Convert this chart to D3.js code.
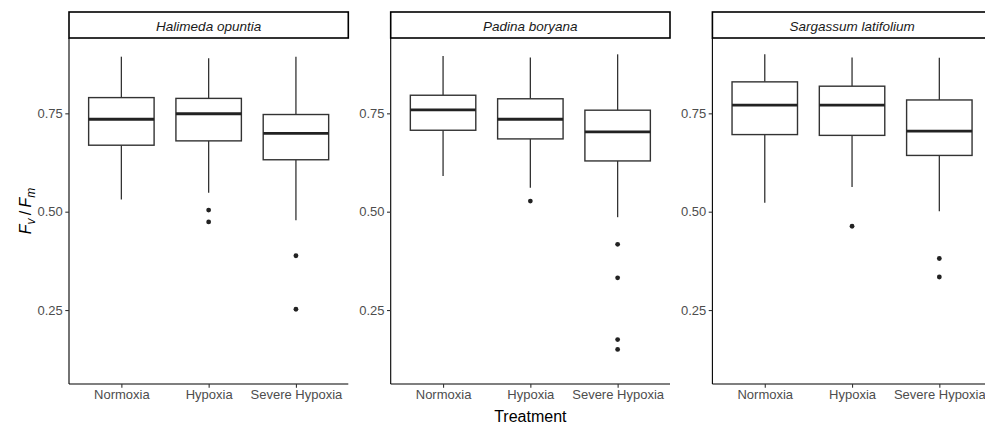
<!DOCTYPE html>
<html>
<head>
<meta charset="utf-8">
<script src="https://cdn.jsdelivr.net/npm/d3@7"></script>
<style>
  body { margin: 0; background: #fff; }
  svg { font-family: "Liberation Sans", Arial, sans-serif; }
</style>
</head>
<body>
<div id="chart"></div>
<script>
// data, one row per species, one value per treatment
const species = ["Halimeda opuntia", "Padina boryana", "Sargassum latifolium"];
const treatments = ["Normoxia", "Hypoxia", "Severe Hypoxia"];

const whiskerLow  = [[0.531, 0.548, 0.478], [0.591, 0.561, 0.486], [0.523, 0.563, 0.501]];
const q1          = [[0.669, 0.680, 0.632], [0.707, 0.685, 0.629], [0.696, 0.694, 0.643]];
const median      = [[0.735, 0.749, 0.699], [0.759, 0.735, 0.703], [0.771, 0.771, 0.705]];
const q3          = [[0.790, 0.788, 0.747], [0.796, 0.787, 0.758], [0.830, 0.819, 0.784]];
const whiskerHigh = [[0.894, 0.890, 0.894], [0.896, 0.892, 0.900], [0.900, 0.892, 0.891]];
const outliers    = [
    [[], [0.504, 0.474], [0.388, 0.252]],
    [[], [0.527], [0.417, 0.332, 0.175, 0.150]],
    [[], [0.463], [0.381, 0.334]]
];
const yTicks = [0.25, 0.50, 0.75];

const width = 985, height = 426;
const panelW = 279.3, firstLeft = 69, panelGap = 42.4;
const stripTop = 12, plotTop = 38, plotBottom = 384;

const svg = d3.select("#chart").append("svg")
    .attr("width", width).attr("height", height);

const y = d3.scaleLinear().domain([0.062, 0.9415]).range([plotBottom, plotTop]);

species.forEach((sp, p) => {
    const left = firstLeft + p * (panelW + panelGap);
    const x = d3.scalePoint().domain(treatments).range([left, left + panelW]).padding(0.6);
    const boxW = x.step() * 0.75;
    const g = svg.append("g");

    // strip
    g.append("rect")
        .attr("x", left).attr("y", stripTop)
        .attr("width", panelW).attr("height", plotTop - stripTop)
        .attr("fill", "#fff").attr("stroke", "#000").attr("stroke-width", 1.6);
    g.append("text")
        .attr("x", left + panelW / 2).attr("y", 30.5)
        .attr("text-anchor", "middle").attr("font-style", "italic")
        .attr("font-size", "13.5px").attr("fill", "#1a1a1a")
        .text(sp);

    const rows = treatments.map((t, i) => ({
        t, lo: whiskerLow[p][i], q1: q1[p][i], med: median[p][i],
        q3: q3[p][i], hi: whiskerHigh[p][i], out: outliers[p][i]
    }));

    const box = g.selectAll("g.box").data(rows).enter().append("g").attr("class", "box");
    box.append("line")
        .attr("x1", d => x(d.t)).attr("x2", d => x(d.t))
        .attr("y1", d => y(d.hi)).attr("y2", d => y(d.q3))
        .attr("stroke", "#333").attr("stroke-width", 1.3);
    box.append("line")
        .attr("x1", d => x(d.t)).attr("x2", d => x(d.t))
        .attr("y1", d => y(d.q1)).attr("y2", d => y(d.lo))
        .attr("stroke", "#333").attr("stroke-width", 1.3);
    box.append("rect")
        .attr("x", d => x(d.t) - boxW / 2).attr("width", boxW)
        .attr("y", d => y(d.q3)).attr("height", d => y(d.q1) - y(d.q3))
        .attr("fill", "#fff").attr("stroke", "#333").attr("stroke-width", 1.4);
    box.append("line")
        .attr("x1", d => x(d.t) - boxW / 2).attr("x2", d => x(d.t) + boxW / 2)
        .attr("y1", d => y(d.med)).attr("y2", d => y(d.med))
        .attr("stroke", "#222").attr("stroke-width", 2.8);
    box.selectAll("circle").data(d => d.out.map(v => ({ t: d.t, v }))).enter().append("circle")
        .attr("cx", d => x(d.t)).attr("cy", d => y(d.v)).attr("r", 2.4)
        .attr("fill", "#222");

    // axes
    const yAxis = g.append("g").attr("transform", `translate(${left},0)`)
        .call(d3.axisLeft(y).tickValues(yTicks).tickFormat(d3.format(".2f")).tickSize(3.7).tickPadding(2.5));
    const xAxis = g.append("g").attr("transform", `translate(0,${plotBottom})`)
        .call(d3.axisBottom(x).tickSize(3.7).tickPadding(2.5));
    [yAxis, xAxis].forEach(a => {
        a.select(".domain").attr("stroke", "#000").attr("stroke-width", 1.1);
        a.selectAll(".tick line").attr("stroke", "#333").attr("stroke-width", 1.1);
        a.selectAll(".tick text").attr("fill", "#4d4d4d").attr("font-size", "13px")
            .attr("font-family", "Liberation Sans, Arial, sans-serif");
    });
    yAxis.select(".domain").attr("d", `M0,${plotTop}V${plotBottom}`);
    xAxis.select(".domain").attr("d", `M${left},0H${left + panelW}`);
});

// axis titles
const midPanel = firstLeft + panelW + panelGap + panelW / 2;
svg.append("text")
    .attr("x", midPanel).attr("y", 422)
    .attr("text-anchor", "middle").attr("font-size", "16px").attr("fill", "#000")
    .text("Treatment");

const yl = svg.append("text")
    .attr("transform", `translate(31,${(plotTop + plotBottom) / 2}) rotate(-90)`)
    .attr("text-anchor", "middle").attr("font-size", "16px").attr("fill", "#000");
yl.append("tspan").attr("font-style", "italic").text("F");
yl.append("tspan").attr("font-style", "italic").attr("font-size", "12px").attr("dy", 4).text("v");
yl.append("tspan").attr("dy", -4).text("\u2009/\u2009");
yl.append("tspan").attr("font-style", "italic").text("F");
yl.append("tspan").attr("font-style", "italic").attr("font-size", "12px").attr("dy", 4).text("m");
</script>
</body>
</html>
